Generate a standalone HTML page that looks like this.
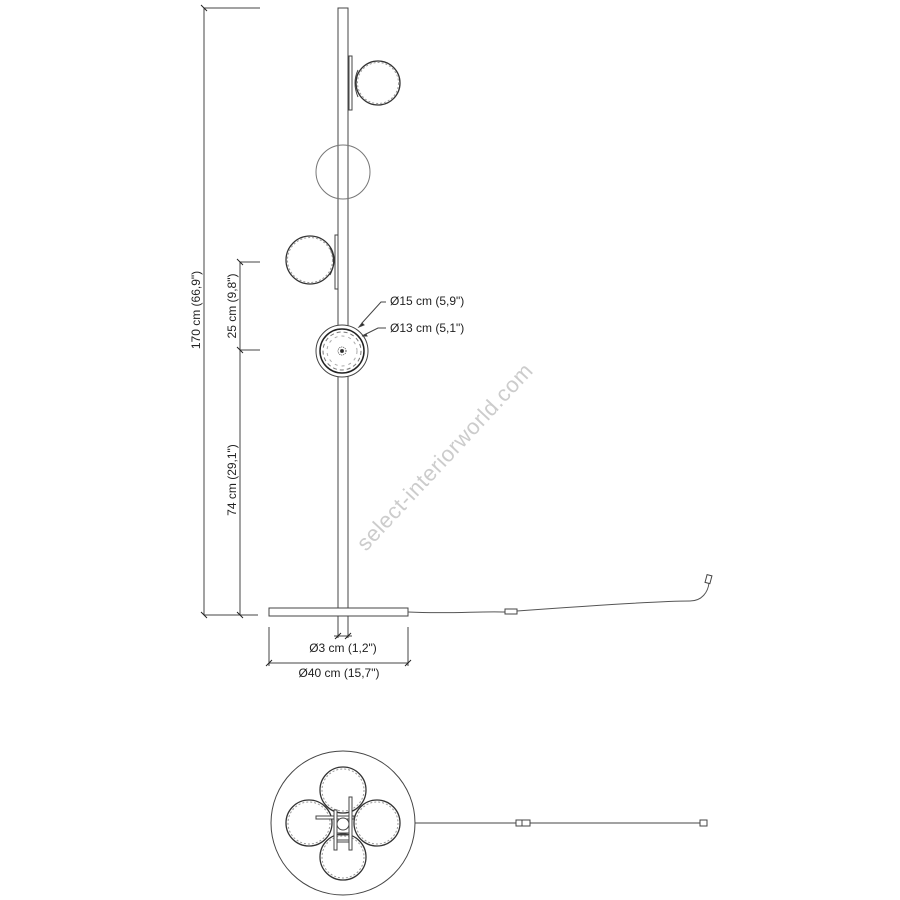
<!DOCTYPE html>
<html><head><style>
html,body{margin:0;padding:0;background:#fff;}
svg{display:block;}
text{font-family:"Liberation Sans",Arial,sans-serif;fill:#222;}
</style></head><body>
<svg width="900" height="900" viewBox="0 0 900 900" xmlns="http://www.w3.org/2000/svg">
<g stroke="#444" stroke-width="1" fill="none">
<!-- watermark -->
<text x="0" y="0" transform="translate(366,552) rotate(-47)" font-size="22" style="fill:#ccc;stroke:none" letter-spacing="0.6">select-interiorworld.com</text>
<!-- pole -->
<rect x="338" y="8" width="10" height="600" fill="#fff"/>
<!-- base -->
<rect x="269" y="608" width="139" height="8" fill="#fff"/>
<!-- globe 1 -->
<rect x="349" y="56" width="3" height="54"/>
<path d="M358 70 Q352 83 358 97"/>
<circle cx="378" cy="83" r="22" stroke="#333" stroke-width="1.3"/>
<circle cx="378" cy="83" r="20.5" stroke="#999" stroke-dasharray="2 2"/>
<!-- circle 2 -->
<circle cx="343" cy="172" r="27" stroke="#777"/>
<!-- globe 3 -->
<rect x="335" y="235" width="3" height="54"/>
<path d="M330 248 Q337 262 330 275"/>
<circle cx="310" cy="260" r="24" stroke="#333" stroke-width="1.3"/>
<circle cx="310" cy="260" r="22.5" stroke="#999" stroke-dasharray="2 2"/>
<!-- globe 4 front -->
<circle cx="342" cy="351" r="26" fill="#fff"/>
<circle cx="342" cy="351" r="22" stroke="#222" stroke-width="1.5"/>
<circle cx="342" cy="351" r="19" stroke="#777" stroke-dasharray="4 3"/>
<circle cx="342" cy="351" r="15" stroke="#aaa" stroke-dasharray="3 4"/>
<circle cx="342" cy="351" r="4" stroke="#555" stroke-dasharray="1 1"/>
<circle cx="342" cy="351" r="1.5" fill="#222"/>
<!-- leaders -->
<path d="M386 302 L381 302 L362 323"/>
<path d="M386 328 L378 328 L366 334"/>
<path d="M362 323 l-3 4 l5 -2z" fill="#222"/>
<path d="M366 334 l-4 2 l5 0z" fill="#222"/>
<!-- dims left -->
<line x1="204" y1="8" x2="204" y2="615"/>
<line x1="204" y1="8" x2="260" y2="8"/>
<line x1="204" y1="615" x2="258" y2="615"/>
<line x1="240" y1="262" x2="240" y2="615"/>
<line x1="240" y1="262" x2="260" y2="262"/>
<line x1="240" y1="350" x2="260" y2="350"/>
<g stroke="#222"><line x1="201" y1="5" x2="207" y2="11"/><line x1="201" y1="612" x2="207" y2="618"/>
<line x1="237" y1="259" x2="243" y2="265"/><line x1="237" y1="347" x2="243" y2="353"/><line x1="237" y1="612" x2="243" y2="618"/></g>
<!-- bottom dims -->
<line x1="338" y1="616" x2="338" y2="638"/>
<line x1="348" y1="616" x2="348" y2="638"/>
<line x1="334" y1="636" x2="352" y2="636"/>
<line x1="269" y1="627" x2="269" y2="666"/>
<line x1="408" y1="627" x2="408" y2="666"/>
<line x1="269" y1="663" x2="408" y2="663"/>
<g stroke="#222"><line x1="335" y1="639" x2="341" y2="633"/><line x1="345" y1="639" x2="351" y2="633"/>
<line x1="266" y1="666" x2="272" y2="660"/><line x1="405" y1="666" x2="411" y2="660"/></g>
<!-- cable -->
<path d="M408 612 C450 614 480 611 505 612" stroke="#555"/>
<rect x="505" y="609" width="12" height="5"/>
<path d="M517 611 C600 605 660 601 690 601 C702 601 708 592 709 583" stroke="#555"/>
<rect x="706" y="575" width="5" height="8" transform="rotate(15 708 579)"/>
<!-- plan view -->
<circle cx="343" cy="823" r="72"/>
<g stroke="#333" stroke-width="1.3">
<circle cx="343" cy="790" r="23"/>
<circle cx="343" cy="857" r="23"/>
<circle cx="309" cy="823" r="23"/>
<circle cx="377" cy="823" r="23"/>
</g>
<g stroke="#999" stroke-dasharray="2 2">
<circle cx="343" cy="790" r="21"/><circle cx="343" cy="857" r="21"/><circle cx="309" cy="823" r="21"/><circle cx="377" cy="823" r="21"/>
</g>
<rect x="316" y="816" width="38" height="3" fill="#fff"/>
<rect x="334" y="810" width="3" height="40" fill="#fff"/>
<rect x="349" y="797" width="3" height="53" fill="#fff"/>
<rect x="337" y="833" width="12" height="2"/><rect x="337" y="840" width="12" height="2"/>
<circle cx="343" cy="824" r="6" fill="#fff"/>
<line x1="415" y1="823" x2="516" y2="823"/>
<rect x="516" y="820" width="14" height="6"/><line x1="522" y1="820" x2="522" y2="826"/>
<line x1="530" y1="823" x2="700" y2="823"/>
<rect x="700" y="820" width="7" height="6"/>
</g>
<g font-size="12">
<text x="390" y="305">Ø15 cm (5,9")</text>
<text x="390" y="332">Ø13 cm (5,1")</text>
<text x="343" y="652" text-anchor="middle">Ø3 cm (1,2")</text>
<text x="339" y="677" text-anchor="middle">Ø40 cm (15,7")</text>
<text transform="translate(200,310) rotate(-90)" text-anchor="middle">170 cm (66,9")</text>
<text transform="translate(236,306) rotate(-90)" text-anchor="middle">25 cm (9,8")</text>
<text transform="translate(236,480) rotate(-90)" text-anchor="middle">74 cm (29,1")</text>
</g>
</svg>
</body></html>
